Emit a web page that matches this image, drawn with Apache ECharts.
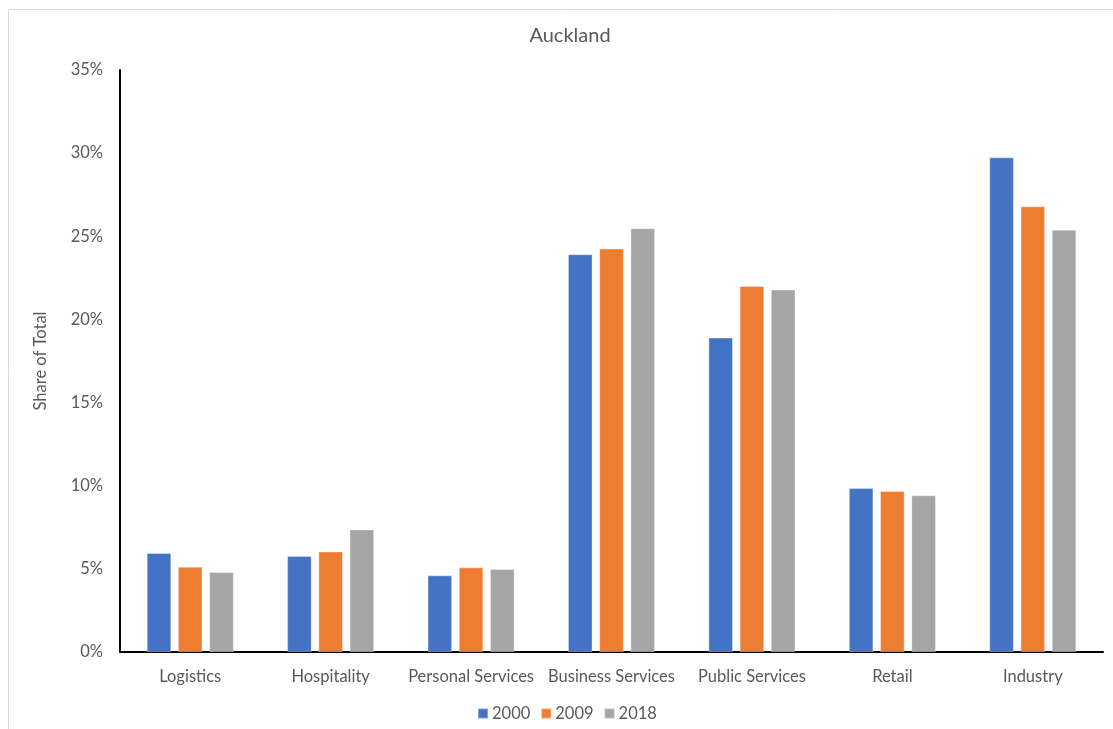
<!DOCTYPE html>
<html>
<head>
<meta charset="utf-8">
<script src="https://cdn.jsdelivr.net/npm/echarts@6/dist/echarts.min.js"></script>
<style>
  html, body { margin: 0; padding: 0; background: #ffffff; }
  #chart { width: 1113px; height: 729px; }
</style>
</head>
<body>
<div id="chart"></div>
<script>
// Employment share by sector, Auckland (percent of total)
const categories = ['Logistics', 'Hospitality', 'Personal Services', 'Business Services', 'Public Services', 'Retail', 'Industry'];
const years = ['2000', '2009', '2018'];
const share2000 = [5.95, 5.77, 4.61, 23.92, 18.91, 9.86, 29.75];
const share2009 = [5.13, 6.05, 5.09, 24.26, 22.01, 9.68, 26.80];
const share2018 = [4.81, 7.37, 4.99, 25.48, 21.80, 9.43, 25.40];
const yTicks = [0, 5, 10, 15, 20, 25, 30, 35];

const colors = ['#4472C4', '#ED7D31', '#A5A5A5'];
const seriesValues = [share2000, share2009, share2018];
const fontFamily = 'Lato, "Liberation Sans", sans-serif';
const textColor = '#595959';

const chart = echarts.init(document.getElementById('chart'), null, { renderer: 'canvas' });

chart.setOption({
  backgroundColor: '#ffffff',
  animation: false,
  color: colors,
  graphic: [{
    type: 'rect',
    shape: { x: 8.5, y: 9.5, width: 1110, height: 740 },
    style: { fill: 'none', stroke: '#d9d9d9', lineWidth: 1 },
    silent: true
  }],
  title: {
    text: 'Auckland',
    left: 565,
    top: 21,
    textAlign: 'center',
    textStyle: { fontFamily, fontSize: 20, fontWeight: 'normal', color: textColor }
  },
  legend: {
    data: years,
    left: 472,
    top: 700,
    itemWidth: 10,
    itemHeight: 10,
    itemGap: 10,
    icon: 'rect',
    textStyle: { fontFamily, fontSize: 16.5, color: textColor, padding: [0, 0, 0, -1] }
  },
  grid: { left: 120, right: 10, top: 70, bottom: 77, containLabel: false },
  xAxis: {
    type: 'category',
    data: categories,
    axisLine: { lineStyle: { color: '#000000', width: 2 } },
    axisTick: { show: false },
    axisLabel: { fontFamily, fontSize: 16.5, color: textColor, margin: 16, interval: 0 },
    splitLine: { show: false }
  },
  yAxis: {
    type: 'value',
    min: yTicks[0],
    max: yTicks[yTicks.length - 1],
    interval: yTicks[1] - yTicks[0],
    name: 'Share of Total',
    nameLocation: 'middle',
    nameGap: 71,
    nameTextStyle: { fontFamily, fontSize: 16.5, color: textColor },
    axisLine: { show: true, lineStyle: { color: '#000000', width: 2 } },
    axisTick: { show: false },
    splitLine: { show: false },
    axisLabel: {
      fontFamily, fontSize: 16.5, color: textColor, margin: 17,
      formatter: v => v + '%'
    }
  },
  series: years.map((y, i) => ({
    name: y,
    type: 'bar',
    data: seriesValues[i],
    barGap: '27%',
    barCategoryGap: '38%',
    itemStyle: { color: colors[i], borderColor: 'rgba(255,255,255,0.35)', borderWidth: 1 }
  }))
});
</script>
</body>
</html>
